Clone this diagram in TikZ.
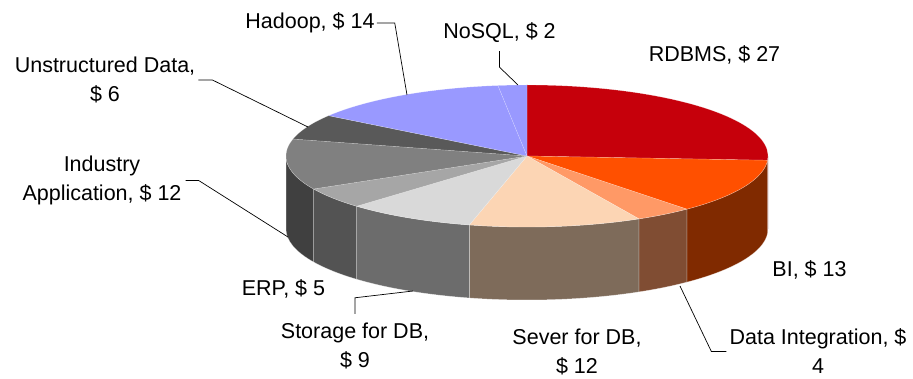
\documentclass[tikz,border=0pt]{standalone}
\usepackage{fontspec}
\setmainfont{Liberation Sans}
\usetikzlibrary{calc}
\definecolor{cRDBMS}{RGB}{198,0,11}
\definecolor{sRDBMS}{RGB}{99,0,6}
\definecolor{cBI}{RGB}{255,80,0}
\definecolor{sBI}{RGB}{128,42,0}
\definecolor{cDI}{RGB}{255,153,102}
\definecolor{sDI}{RGB}{128,77,51}
\definecolor{cSever}{RGB}{252,213,180}
\definecolor{sSever}{RGB}{126,107,90}
\definecolor{cStor}{RGB}{217,217,217}
\definecolor{sStor}{RGB}{108,108,108}
\definecolor{cERP}{RGB}{166,166,166}
\definecolor{sERP}{RGB}{83,83,83}
\definecolor{cInd}{RGB}{128,128,128}
\definecolor{sInd}{RGB}{64,64,64}
\definecolor{cUns}{RGB}{89,89,89}
\definecolor{cHad}{RGB}{153,153,255}
\definecolor{cNoSQL}{RGB}{153,153,255}
\newcommand\pieside[3]{\fill[#3, sideface] ($(C)+(#1:241 and 71)$) arc[start angle=#1, end angle=#2, x radius=241, y radius=71] -- ++(0,-73) arc[start angle=#2, end angle=#1, x radius=241, y radius=71] -- cycle;}
\newcommand\pietop[3]{\fill[#3, topface] (C) -- ($(C)+(#1:241 and 71)$) arc[start angle=#1, end angle=#2, x radius=241, y radius=71] -- cycle;}
\begin{document}
\begin{tikzpicture}[x=1pt,y=1pt,
  lbl/.style={font=\fontsize{21.5}{29}\selectfont, align=center, inner sep=0pt},
  leader/.style={draw=black, line width=0.7pt},
  topface/.style={draw=white, draw opacity=0.35, line width=0.4pt, line join=round},
  sideface/.style={draw=white, draw opacity=0.45, line width=0.5pt, line join=round}]
\useasboundingbox (0,0) rectangle (913,378);
\coordinate (C) at (527,222);
% side faces
\pieside{0}{-3.4615}{sRDBMS}
\pieside{-3.4615}{-48.4615}{sBI}
\pieside{-48.4615}{-62.3077}{sDI}
\pieside{-62.3077}{-103.8462}{sSever}
\pieside{-103.8462}{-135}{sStor}
\pieside{-135}{-152.3077}{sERP}
\pieside{-152.3077}{-180}{sInd}
% top faces
\pietop{90}{-3.4615}{cRDBMS}
\pietop{-3.4615}{-48.4615}{cBI}
\pietop{-48.4615}{-62.3077}{cDI}
\pietop{-62.3077}{-103.8462}{cSever}
\pietop{-103.8462}{-135}{cStor}
\pietop{-135}{-152.3077}{cERP}
\pietop{-152.3077}{-193.8462}{cInd}
\pietop{-193.8462}{-214.6154}{cUns}
\pietop{-214.6154}{-263.0769}{cHad}
\pietop{-263.0769}{-270}{cNoSQL}
% labels
\node[lbl] (hadoop) at (310,355) {Hadoop, \$ 14};
\node[lbl] (nosql) at (499.5,345) {NoSQL, \$ 2};
\node[lbl] (rdbms) at (714.5,323) {RDBMS, \$ 27};
\node[lbl] (unstr) at (105,298) {Unstructured Data,\\ \$ 6};
\node[lbl] (indus) at (102,197.5) {Industry\\ Application, \$ 12};
\node[lbl] (erp) at (283.5,89) {ERP, \$ 5};
\node[lbl] (stor) at (355,32) {Storage for DB,\\ \$ 9};
\node[lbl] (sever) at (577,26) {Sever for DB,\\ \$ 12};
\node[lbl] (bi) at (809.5,108.5) {BI, \$ 13};
\node[lbl] (di) at (818,26.5) {Data Integration, \$\\ 4};
% leader end points
\coordinate (hadoopP) at (407,283);
\coordinate (nosqlP) at (518,293);
\coordinate (unstrP) at (308,251);
\coordinate (indusP) at (288,141);
\coordinate (storP) at (413,87);
\coordinate (diP) at (680,92);
% leaders
\draw[leader] ([xshift=2pt]hadoop.east) -- ++(18,0) -- (hadoopP);
\draw[leader] ([yshift=-8pt]nosql.south) -- ++(0,-16) -- (nosqlP);
\draw[leader] ([xshift=3pt]unstr.east) -- ++(14,0) -- (unstrP);
\draw[leader] ([xshift=4pt]indus.east) -- ++(13,0) -- (indusP);
\draw[leader] ([yshift=9pt]stor.north) -- ++(0,16) -- (storP);
\draw[leader] ([xshift=-3pt]di.west) -- ++(-15,0) -- ([yshift=0pt]diP);
\end{tikzpicture}
\end{document}
